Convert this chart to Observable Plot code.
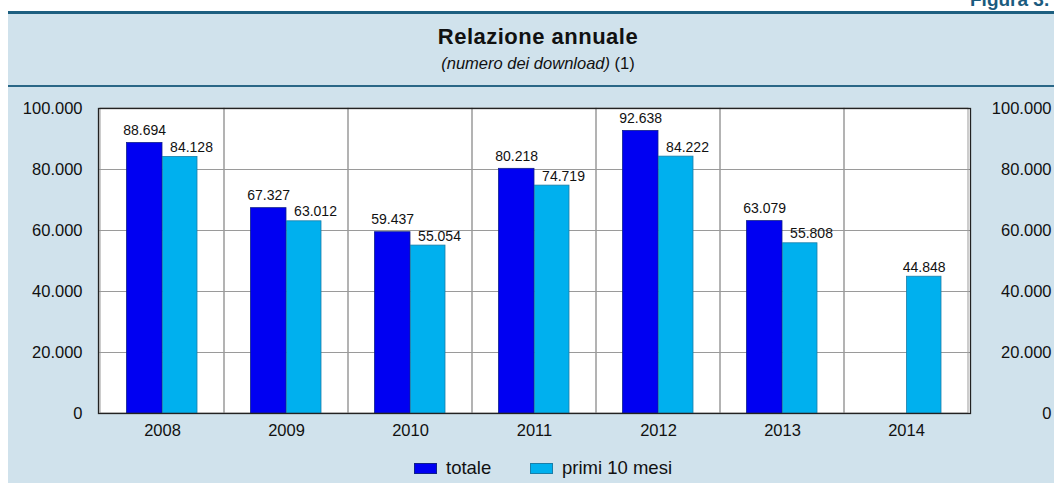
<!DOCTYPE html>
<html>
<head>
<meta charset="utf-8">
<script src="https://cdn.jsdelivr.net/npm/d3@7"></script>
<script src="https://cdn.jsdelivr.net/npm/@observablehq/plot@0.6"></script>
<style>
  html, body { margin: 0; padding: 0; background: #ffffff; overflow: hidden; }
  body { width: 1054px; height: 483px; position: relative; font-family: "Liberation Sans", Arial, Helvetica, sans-serif; }
  #figura { position: absolute; left: 970px; top: -11px; font-weight: bold; font-size: 19px; color: #1b5b7e; white-space: nowrap; }
  #panel { position: absolute; left: 8px; top: 11px; width: 1046px; height: 472px; background: #d0e2ec; border-top: 3px solid #1d5f80; box-sizing: border-box; }
  #title { position: absolute; left: 0; width: 1060px; top: 10px; text-align: center; font-weight: bold; font-size: 22px; letter-spacing: 0.5px; color: #111; }
  #subtitle { position: absolute; left: 0; width: 1060px; top: 40px; text-align: center; font-size: 16.5px; color: #111; }
  #rule2 { position: absolute; left: 0; width: 1046px; top: 71px; height: 2px; background: #2a6787; }
  #chart { position: absolute; left: 8px; top: 88px; }
  #legend { position: absolute; top: 454px; left: 0; width: 1054px; height: 30px; font-size: 18.5px; color: #111; }
  .sw { position: absolute; width: 23px; height: 11px; box-sizing: border-box; }
  .lt { position: absolute; }
</style>
</head>
<body>
<div id="figura">Figura 3.</div>
<div id="panel">
  <div id="title">Relazione annuale</div>
  <div id="subtitle"><i>(numero dei download)</i> (1)</div>
  <div id="rule2"></div>
</div>
<div id="chart"></div>
<div id="legend"></div>
<script>
// ---- data ----
const years = ["2008", "2009", "2010", "2011", "2012", "2013", "2014"];
const totale = [88694, 67327, 59437, 80218, 92638, 63079, null];
const primi10 = [84128, 63012, 55054, 74719, 84222, 55808, 44848];
const yTicks = [0, 20000, 40000, 60000, 80000, 100000];
const seriesNames = ["totale", "primi 10 mesi"];
const seriesColors = ["#0000f2", "#00b0ee"];

const it = d3.formatLocale({decimal: ",", thousands: ".", grouping: [3], currency: ["€", ""]});
const fmt = it.format(",d");

const rowsTot = years.map((y, i) => ({year: y, value: totale[i]})).filter(d => d.value != null);
const rowsPri = years.map((y, i) => ({year: y, value: primi10[i], paired: totale[i] != null})).filter(d => d.value != null);

const labelStyle = {fontSize: 14, fill: "#111", lineAnchor: "bottom", style: {letterSpacing: "0.2px"}};
const tickStyle = {letterSpacing: "0.4px"};

const chart = Plot.plot({
  width: 1046,
  height: 362,
  marginLeft: 90,
  marginRight: 84,
  marginTop: 20,
  marginBottom: 37,
  style: {background: "transparent", fontFamily: "Liberation Sans, Arial, sans-serif", color: "#111"},
  x: {domain: years, padding: 0, label: null},
  y: {domain: [0, 100000], label: null},
  marks: [
    Plot.frame({fill: "white", stroke: "none"}),
    Plot.rect(years, {x: d => d, y1: 0, y2: 100000, stroke: "#9a9a9a", strokeWidth: 1, fill: "none"}),
    Plot.ruleY(yTicks, {stroke: "#9a9a9a", strokeWidth: 1}),
    Plot.barY(rowsTot, {x: "year", y: "value", fill: seriesColors[0], stroke: "#10208a", strokeWidth: 0.8, insetLeft: 26.5, insetRight: 62}),
    Plot.barY(rowsPri, {x: "year", y: "value", fill: seriesColors[1], stroke: "#1a7ea8", strokeWidth: 0.8, insetLeft: 62.5, insetRight: 27}),
    Plot.text(rowsTot, {x: "year", y: "value", text: d => fmt(d.value), dx: -17.8, dy: -8, ...labelStyle}),
    Plot.text(rowsPri.filter(d => d.paired), {x: "year", y: "value", text: d => fmt(d.value), dx: 29, dy: -5, ...labelStyle}),
    Plot.text(rowsPri.filter(d => !d.paired), {x: "year", y: "value", text: d => fmt(d.value), dx: 17.7, dy: -5, ...labelStyle}),
    Plot.axisY({anchor: "left", ticks: yTicks, tickFormat: fmt, tickSize: 0, tickPadding: 16, fontSize: 16.5, label: null, style: tickStyle}),
    Plot.axisY({anchor: "right", ticks: yTicks, tickFormat: fmt, tickSize: 0, tickPadding: 81, textAnchor: "end", fontSize: 16.5, label: null, style: tickStyle}),
    Plot.axisX({anchor: "bottom", tickSize: 0, tickPadding: 11, fontSize: 16.5, label: null, style: tickStyle}),
    Plot.frame({stroke: "#222", strokeWidth: 1.3})
  ]
});
document.getElementById("chart").appendChild(chart);

// legend built from the series arrays
const legend = document.getElementById("legend");
const swX = [414, 530];
const txX = [446, 562];
seriesNames.forEach((name, i) => {
  const sw = document.createElement("div");
  sw.className = "sw";
  sw.style.left = swX[i] + "px";
  sw.style.top = "9px";
  sw.style.background = seriesColors[i];
  sw.style.border = "1px solid " + (i === 0 ? "#10208a" : "#1a7ea8");
  legend.appendChild(sw);
  const t = document.createElement("div");
  t.className = "lt";
  t.style.left = txX[i] + "px";
  t.style.top = "3px";
  t.textContent = name;
  legend.appendChild(t);
});
</script>
</body>
</html>
